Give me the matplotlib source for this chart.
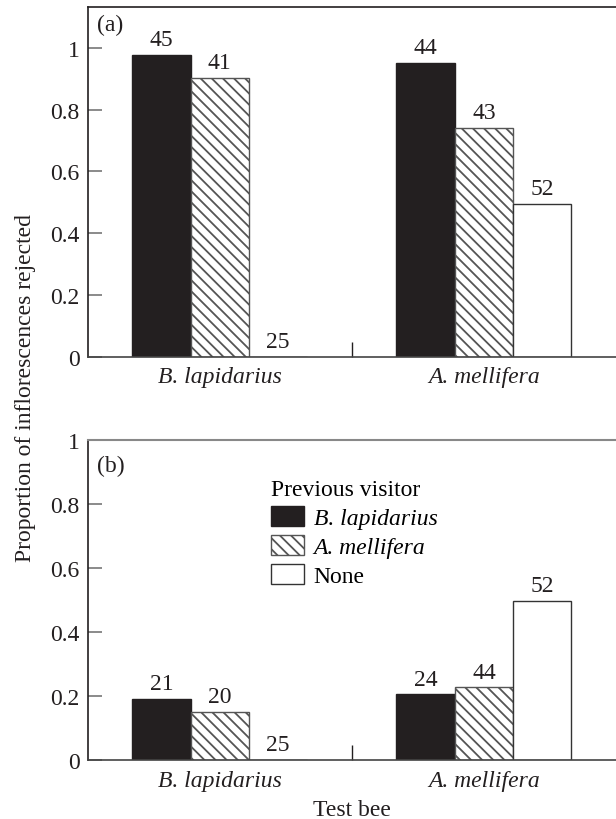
import numpy as np
import matplotlib
matplotlib.use('Agg')
import matplotlib.pyplot as plt

plt.rcParams['font.family'] = ['Liberation Serif', 'DejaVu Serif']
plt.rcParams['font.size'] = 17
plt.rcParams['hatch.linewidth'] = 1.3
plt.rcParams['hatch.color'] = '#231f20'

# Datos
test_bees = ['B. lapidarius', 'A. mellifera']
visitors = ['B. lapidarius', 'A. mellifera', 'None']

prop_a = {'B. lapidarius': [0.978, 0.951],
          'A. mellifera': [0.902, 0.740],
          'None': [0.0, 0.495]}
n_a = {'B. lapidarius': [45, 44],
       'A. mellifera': [41, 43],
       'None': [25, 52]}

prop_b = {'B. lapidarius': [0.190, 0.205],
          'A. mellifera': [0.149, 0.227],
          'None': [0.0, 0.497]}
n_b = {'B. lapidarius': [21, 24],
       'A. mellifera': [20, 44],
       'None': [25, 52]}

dark = '#231f20'
styles = {'B. lapidarius': dict(color=dark, edgecolor=dark, hatch=None),
          'A. mellifera': dict(color='white', edgecolor='#555555', hatch='\\\\\\'),
          'None': dict(color='white', edgecolor='#333333', hatch=None)}

fig = plt.figure(figsize=(6.16, 8.2), dpi=100)
ax_a = fig.add_axes([0.1424, 0.564, 0.8576, 0.4259])
ax_b = fig.add_axes([0.1424, 0.072, 0.8576, 0.3896])

x = np.arange(len(test_bees))
w = 0.221


def panel(ax, props, ns, ymax, tag, tag_y):
    handles = []
    for k, v in enumerate(visitors):
        st = styles[v]
        bars = ax.bar(x + (k - 1) * w, props[v], w, color=st['color'],
                      edgecolor=st['edgecolor'], hatch=st['hatch'],
                      linewidth=1.0, label=v, zorder=2)
        handles.append(bars)
        for xi, yi, ni in zip(x + (k - 1) * w, props[v], ns[v]):
            ax.annotate(str(ni), (xi, yi), xytext=(0, 3.5), textcoords='offset points',
                        ha='center', va='bottom', color=dark)
    ax.set_xlim(-0.5, 1.5)
    ax.set_ylim(0, ymax)
    ax.set_yticks([0, 0.2, 0.4, 0.6, 0.8, 1.0])
    ax.set_yticklabels(['0', '0.2', '0.4', '0.6', '0.8', '1'])
    ax.set_xticks(x)
    ax.set_xticklabels(test_bees, fontstyle='italic')
    ax.set_xticks([0.5], minor=True)
    ax.tick_params(axis='x', which='major', length=0, pad=7, colors=dark)
    ax.tick_params(axis='x', which='minor', direction='in', length=11, width=1.0, color=dark)
    ax.tick_params(axis='y', direction='in', length=10, width=1.2, color='#777777',
                   labelcolor=dark, pad=6)
    ax.spines['right'].set_visible(False)
    ax.spines['left'].set_color(dark)
    ax.spines['bottom'].set_color('#444444')
    ax.spines['left'].set_linewidth(1.2)
    ax.spines['bottom'].set_linewidth(1.2)
    ax.text(0.018, tag_y, tag, transform=ax.transAxes, ha='left', va='center', color=dark)
    return handles


panel(ax_a, prop_a, n_a, 1.132, '(a)', 0.952)
ax_a.spines['top'].set_color(dark)
ax_a.spines['top'].set_linewidth(1.2)

handles = panel(ax_b, prop_b, n_b, 1.0, '(b)', 0.921)
ax_b.spines['top'].set_color('#888888')
ax_b.spines['top'].set_linewidth(1.5)
ax_b.set_xlabel('Test bee', color=dark, labelpad=6)

leg = ax_b.legend(handles, ['B. lapidarius', 'A. mellifera', 'None'],
                  title='Previous visitor', loc='upper left', bbox_to_anchor=(0.325, 0.915),
                  frameon=False, borderpad=0, handlelength=1.4, handleheight=0.9,
                  handletextpad=0.4, labelspacing=0.25, alignment='left', fontsize=17,
                  title_fontsize=17)
for t in leg.get_texts()[:2]:
    t.set_fontstyle('italic')

fig.text(0.041, 0.527, 'Proportion of inflorescences rejected', rotation=90,
         ha='center', va='center', color=dark)

fig.savefig('out.png', dpi=100)
